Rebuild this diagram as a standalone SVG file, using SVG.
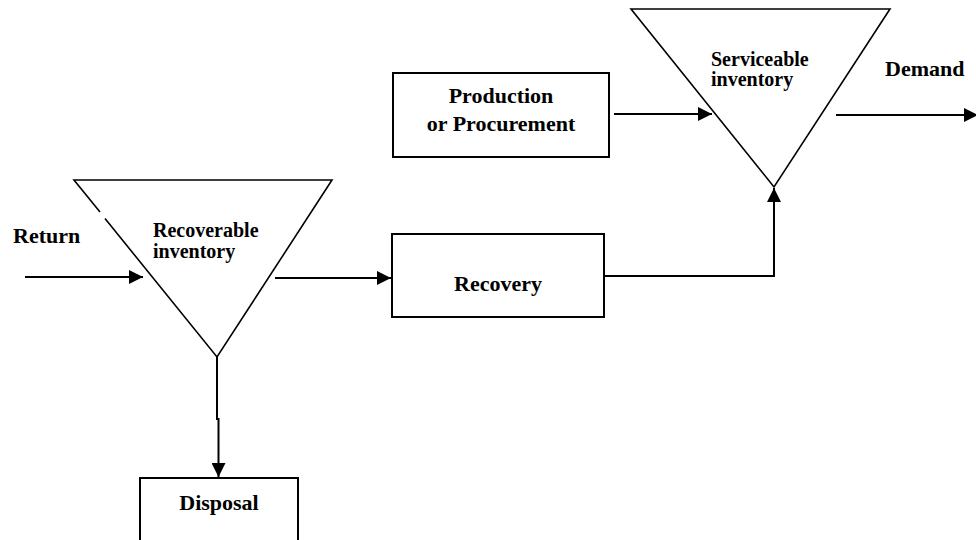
<svg xmlns="http://www.w3.org/2000/svg" width="976" height="540" viewBox="0 0 976 540">
  <style>
    .box { fill: #fff; stroke: #000; stroke-width: 2; }
    .tri { fill: none; stroke: #000; stroke-width: 1.6; stroke-linejoin: miter; }
    .flow { fill: none; stroke: #000; stroke-width: 2; }
    .lbl { font-family: "Liberation Serif", "Times New Roman", serif; font-weight: bold; fill: #000; }
    .big { font-size: 22px; }
    .small { font-size: 20px; }
  </style>
  <defs>
    <marker id="arrow" markerUnits="userSpaceOnUse" markerWidth="14" markerHeight="14" refX="14" refY="7" orient="auto">
      <path d="M0,0 L14,7 L0,14 Z" fill="#000"/>
    </marker>
  </defs>

  <rect width="976" height="540" fill="#fff"/>

  <!-- connectors -->
  <g id="connectors">
    <line class="flow" x1="25" y1="277" x2="143" y2="277" marker-end="url(#arrow)"/>
    <line class="flow" x1="275" y1="278" x2="391" y2="278" marker-end="url(#arrow)"/>
    <path class="flow" d="M604,276 H774 V188" marker-end="url(#arrow)"/>
    <line class="flow" x1="614" y1="114" x2="712" y2="114" marker-end="url(#arrow)"/>
    <line class="flow" x1="836" y1="115" x2="978" y2="115" marker-end="url(#arrow)"/>
    <path class="flow" d="M217,357 V419 H218.5 V477" marker-end="url(#arrow)"/>
  </g>

  <!-- recoverable inventory (triangle with a small break in its left side) -->
  <g id="recoverable-inventory">
    <path class="tri" d="M100,212 L74,180 L332,180 L217,357 L105,218.5"/>
    <text class="lbl small" x="153" y="237">Recoverable</text>
    <text class="lbl small" x="153" y="258">inventory</text>
  </g>

  <!-- serviceable inventory -->
  <g id="serviceable-inventory">
    <path class="tri" d="M631,9 L890,9 L774,187 Z"/>
    <text class="lbl small" x="711" y="66">Serviceable</text>
    <text class="lbl small" x="711" y="86">inventory</text>
  </g>

  <g id="production">
    <rect class="box" x="393" y="73" width="216" height="84"/>
    <text class="lbl big" x="501" y="103" text-anchor="middle">Production</text>
    <text class="lbl big" x="501" y="131" text-anchor="middle">or Procurement</text>
  </g>

  <g id="recovery">
    <rect class="box" x="392" y="234" width="212" height="83"/>
    <text class="lbl big" x="498" y="291" text-anchor="middle">Recovery</text>
  </g>

  <g id="disposal">
    <rect class="box" x="140" y="478" width="158" height="70"/>
    <text class="lbl big" x="219" y="510" text-anchor="middle">Disposal</text>
  </g>

  <g id="return">
    <text class="lbl big" x="13" y="243">Return</text>
  </g>

  <g id="demand">
    <text class="lbl big" x="885" y="76">Demand</text>
  </g>
</svg>
